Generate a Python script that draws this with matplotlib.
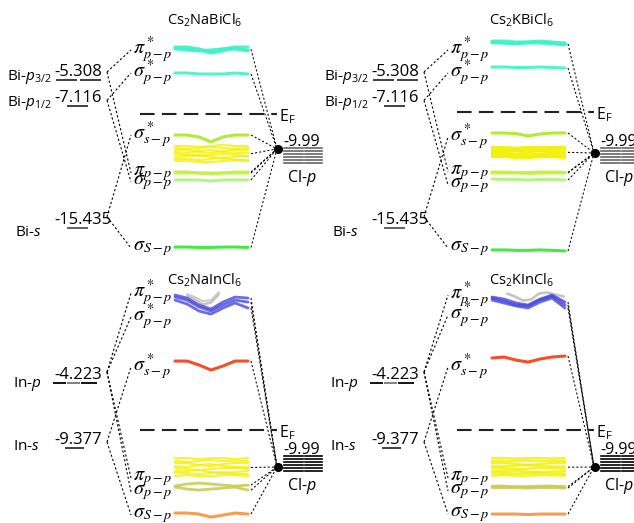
import matplotlib
matplotlib.use("Agg")
import matplotlib.pyplot as plt

plt.rcParams["font.family"] = ["Open Sans", "DejaVu Sans"]
plt.rcParams["mathtext.fontset"] = "custom"
plt.rcParams["mathtext.rm"] = "Open Sans"
plt.rcParams["mathtext.it"] = "Open Sans:italic"

# ---------------- data (energies in eV) ----------------
titles = [r"Cs$_2$NaBiCl$_6$", r"Cs$_2$KBiCl$_6$", r"Cs$_2$NaInCl$_6$", r"Cs$_2$KInCl$_6$"]

bi_levels = [-5.308, -7.116, -15.435]
bi_names = [r"Bi-$p_{\mathit{3/2}}$", r"Bi-$p_{\mathit{1/2}}$", r"Bi-$s$"]
bi_values = ["-5.308", "-7.116", "-15.435"]
in_levels = [-4.223, -9.377]
in_names = [r"In-$p$", r"In-$s$"]
in_values = ["-4.223", "-9.377"]
cl_level = -9.99

mo_names = [r"$\pi^*_{p-p}$", r"$\sigma^*_{p-p}$", r"$\sigma^*_{s-p}$",
            r"$\pi_{p-p}$", r"$\sigma_{p-p}$", r"$\sigma_{S-p}$"]

# sampling positions across each band
band_x = [175, 187, 199, 211, 223, 235, 248]

# Cs2NaBiCl6
nabi_ef = -7.64
nabi_dot = -10.03
nabi_mo_e = [-3.25, -4.83, -9.08, -11.68, -12.29, -16.82]
nabi_pi_star = [[-3.05, -3.05, -3.18, -3.39, -3.18, -3.05, -3.05],
                [-3.18, -3.25, -3.32, -3.25, -3.18, -3.18, -3.32],
                [-3.12, -3.18, -3.25, -3.46, -3.32, -3.12, -3.25]]
nabi_sig_star_pp = [[-4.83, -4.83, -4.90, -4.90, -4.90, -4.83, -4.90]]
nabi_sig_star_sp = [[-9.08, -9.08, -9.21, -9.55, -9.21, -9.08, -9.08]]
nabi_cl_band = [[-9.83, -9.83, -9.90, -9.83, -9.76, -9.83, -9.83],
                [-9.97, -10.03, -9.97, -9.90, -9.97, -10.03, -9.97],
                [-10.10, -10.10, -10.24, -10.31, -10.17, -10.10, -10.10],
                [-10.24, -10.31, -10.17, -10.10, -10.24, -10.31, -10.31],
                [-10.38, -10.44, -10.51, -10.44, -10.38, -10.44, -10.51],
                [-10.58, -10.51, -10.44, -10.58, -10.65, -10.58, -10.51],
                [-10.72, -10.72, -10.79, -10.72, -10.65, -10.79, -10.79],
                [-10.86, -10.86, -10.92, -10.92, -10.86, -10.79, -10.86]]
nabi_pi = [[-11.61, -11.61, -11.68, -11.68, -11.68, -11.61, -11.61],
           [-11.68, -11.68, -11.68, -11.75, -11.68, -11.68, -11.68]]
nabi_sig = [[-12.16, -12.16, -12.16, -12.23, -12.16, -12.16, -12.16]]
nabi_sig_sp = [[-16.75, -16.75, -16.78, -16.78, -16.75, -16.75, -16.78]]

# Cs2KBiCl6
kbi_ef = -7.50
kbi_dot = -10.31
kbi_mo_e = [-3.25, -4.83, -9.21, -11.61, -12.50, -16.82]
kbi_pi_star = [[-2.64, -2.64, -2.71, -2.71, -2.64, -2.71, -2.77],
               [-2.71, -2.77, -2.77, -2.71, -2.71, -2.77, -2.84],
               [-2.77, -2.77, -2.84, -2.77, -2.77, -2.84, -2.91]]
kbi_sig_star_pp = [[-4.42, -4.42, -4.45, -4.45, -4.42, -4.45, -4.49]]
kbi_sig_star_sp = [[-8.94, -8.94, -8.98, -9.14, -9.01, -8.94, -8.94]]
kbi_cl_band = [[-9.90, -9.90, -9.97, -9.90, -9.90, -9.90, -9.90],
               [-9.97, -10.03, -10.03, -9.97, -10.03, -9.97, -9.97],
               [-10.10, -10.10, -10.17, -10.24, -10.17, -10.10, -10.10],
               [-10.17, -10.24, -10.17, -10.10, -10.17, -10.24, -10.24],
               [-10.31, -10.31, -10.38, -10.44, -10.38, -10.31, -10.31],
               [-10.38, -10.44, -10.38, -10.31, -10.38, -10.44, -10.44],
               [-10.51, -10.51, -10.51, -10.58, -10.51, -10.51, -10.51],
               [-10.58, -10.58, -10.65, -10.65, -10.58, -10.58, -10.65]]
kbi_pi = [[-11.61, -11.61, -11.64, -11.64, -11.61, -11.61, -11.64],
          [-11.68, -11.68, -11.68, -11.71, -11.68, -11.68, -11.68]]
kbi_sig = [[-12.09, -12.12, -12.12, -12.16, -12.12, -12.12, -12.16]]
kbi_sig_sp = [[-16.95, -16.95, -16.98, -16.98, -16.95, -16.98, -17.02]]

# Cs2NaInCl6
nain_ef = -7.95
nain_dot = -10.89
nain_mo_e = [2.92, 1.02, -2.95, -11.76, -12.87, -14.70]
nain_gray_x = [187, 195, 203, 211, 219]
nain_gray = [[2.76, 2.44, 2.05, 2.20, 2.92],
             [2.68, 2.36, 1.97, 2.13, 2.76],
             [2.84, 2.60, 2.28, 2.36, 3.00]]
nain_blue = [[2.76, 2.52, 1.97, 1.65, 2.20, 2.60, 2.52],
             [2.36, 2.05, 1.49, 1.25, 1.73, 2.13, 1.73],
             [2.60, 2.36, 1.81, 1.49, 1.97, 2.36, 2.20]]
nain_red = [[-2.48, -2.48, -2.79, -3.19, -2.87, -2.48, -2.48]]
nain_cl_band = [[-10.18, -10.18, -10.26, -10.18, -10.18, -10.26, -10.18],
                [-10.41, -10.49, -10.41, -10.33, -10.41, -10.41, -10.41],
                [-10.57, -10.57, -10.73, -10.81, -10.65, -10.57, -10.57],
                [-10.81, -10.89, -10.73, -10.65, -10.81, -10.89, -10.89],
                [-10.97, -11.05, -11.13, -11.05, -10.97, -10.97, -11.05],
                [-11.21, -11.21, -11.13, -11.29, -11.37, -11.29, -11.21],
                [-11.37, -11.37, -11.45, -11.37, -11.29, -11.45, -11.45],
                [-11.61, -11.53, -11.61, -11.61, -11.53, -11.53, -11.61]]
nain_olive = [[-12.40, -12.24, -12.16, -12.24, -12.32, -12.40, -12.32],
              [-12.48, -12.64, -12.72, -12.64, -12.56, -12.48, -12.72]]
nain_orange = [[-14.54, -14.54, -14.62, -14.86, -14.70, -14.54, -14.62]]

# Cs2KInCl6
kin_ef = -7.95
kin_dot = -10.89
kin_mo_e = [2.76, 1.17, -2.95, -11.76, -12.80, -14.62]
kin_gray_x = [190, 198, 206, 214, 222, 230, 238, 247]
kin_gray = [[2.92, 2.68, 2.36, 2.44, 2.92, 3.00, 2.84, 2.68],
            [2.84, 2.60, 2.28, 2.36, 2.84, 2.92, 2.76, 2.60]]
kin_blue = [[2.60, 2.44, 2.13, 1.97, 2.44, 2.76, 2.20],
            [2.36, 2.13, 1.89, 1.73, 2.20, 2.52, 1.73],
            [2.52, 2.28, 1.97, 1.89, 2.36, 2.68, 1.97]]
kin_red = [[-2.24, -2.16, -2.40, -2.56, -2.32, -2.16, -2.08]]
kin_cl_band = [[-10.18, -10.18, -10.22, -10.18, -10.18, -10.22, -10.18],
               [-10.41, -10.45, -10.41, -10.37, -10.41, -10.41, -10.41],
               [-10.57, -10.57, -10.65, -10.73, -10.65, -10.57, -10.57],
               [-10.81, -10.85, -10.77, -10.73, -10.81, -10.85, -10.85],
               [-10.97, -11.01, -11.05, -11.01, -10.97, -10.97, -11.01],
               [-11.21, -11.21, -11.17, -11.25, -11.29, -11.25, -11.21],
               [-11.37, -11.37, -11.41, -11.37, -11.33, -11.41, -11.41],
               [-11.57, -11.53, -11.57, -11.57, -11.53, -11.53, -11.57]]
kin_olive = [[-12.40, -12.40, -12.44, -12.44, -12.40, -12.40, -12.44],
             [-12.52, -12.52, -12.52, -12.56, -12.52, -12.52, -12.56]]
kin_orange = [[-14.62, -14.62, -14.62, -14.66, -14.62, -14.62, -14.62]]

# ---------------- style ----------------
TURQ = "#3ff2c8"
YG = "#a6ec1c"
YEL = "#f2f000"
PI_C = "#c4f048"
SIG_C = "#aef27a"
GREEN = "#2ee82e"
BLUE = "#4646dc"
GRAY = "#bdbdbd"
RED = "#f23c12"
OLIVE = "#c8c84a"
ORANGE = "#f7923c"

TOP_YLIM = (-17.64, 0.17)
BOT_YLIM = (-15.33, 5.54)
DASH = (2.0, 2.0)


def band(lines, color, lw=2.2, alpha=0.9, link="mean", x=None):
    return {"lines": lines, "color": color, "lw": lw, "alpha": alpha, "link": link, "x": x}


def draw_panel(ax, title, ylim, h_px, levels, names, values, segs, seg_colors,
               vtx_px, name_px, name_x, links, bands, mo_e, ef, dot_e, cl_color):
    ax.set_xlim(0, 317)
    ax.set_ylim(*ylim)
    ax.axis("off")
    ppe = h_px / (ylim[1] - ylim[0])  # pixels per eV

    ax.text(205, ylim[1] - 20 / ppe, title, ha="center", va="center", fontsize=10.5)

    # atomic levels on the left
    for i, lev in enumerate(levels):
        for (x0, x1), c in zip(segs[i], seg_colors[i]):
            ax.plot([x0, x1], [lev, lev], color=c, lw=1.3, solid_capstyle="butt")
        ax.text(54, lev + 4 / ppe, values[i], ha="left", va="baseline", fontsize=12)
        ax.text(name_x[i], lev - name_px[i] / ppe, names[i], ha="right", va="baseline",
                fontsize=11)
        vy = lev + vtx_px[i] / ppe
        for j in links[i]:
            ax.plot([107, 131], [vy, mo_e[j]], color="k", lw=0.8, dashes=DASH)

    # MO labels
    for name, e in zip(mo_names, mo_e):
        ax.text(133, e, name, ha="left", va="center", fontsize=14.5, math_fontfamily="stix")

    # bands and their links to the Cl-p point
    for b in bands:
        xs = b["x"] if b["x"] is not None else band_x
        for ln in b["lines"]:
            ax.plot(xs, ln, color=b["color"], lw=b["lw"], alpha=b["alpha"],
                    solid_capstyle="round", solid_joinstyle="round")
        if b["link"] == "mean":
            ends = [sum(ln[-1] for ln in b["lines"]) / len(b["lines"])]
        elif b["link"] == "each":
            ends = [ln[-1] for ln in b["lines"]]
        else:
            ends = []
        for e in ends:
            ax.plot([251, 277], [e, dot_e], color="k", lw=0.75, dashes=DASH)

    # Fermi level
    ax.plot([140, 277], [ef, ef], color="#222222", lw=1.5, dashes=(7, 3.5))
    ax.text(279, ef - 3 / ppe, r"E$_\mathrm{F}$", ha="left", va="center", fontsize=11.5)

    # Cl-p levels
    ax.plot([278], [dot_e], "o", color="k", ms=5.5)
    gap = 3 / ppe
    for k in range(6):
        y = cl_level - k * gap
        ax.plot([284, 303], [y, y], color=cl_color, lw=1.2, clip_on=False)
        ax.plot([305, 322], [y, y], color=cl_color, lw=1.2, clip_on=False)
    ax.text(283, cl_level + 2 / ppe, "-9.99", ha="left", va="baseline", fontsize=11.5)
    ax.text(287, cl_level - 5 * gap - 5 / ppe, r"Cl-$p$", ha="left", va="top", fontsize=11.5)


fig = plt.figure(figsize=(6.34, 5.23), dpi=100)
top_h, bot_h = 260, 263
W, H = 634, 523

bi_segs = [[(56, 77), (80, 101)], [(67, 88)], [(67, 88)]]
bi_seg_colors = [["#333333", "#333333"], ["#333333"], ["#555555"]]
bi_links = [[0, 3], [1, 4], [2, 5]]
in_segs = [[(53, 66), (67, 80), (81, 97)], [(65, 84)]]
in_seg_colors = [["k", "#777777", "k"], ["#333333"]]
in_links = [[0, 1, 3, 4], [2, 5]]

panels = [
    (titles[0], nabi_mo_e, nabi_ef, nabi_dot, [
        band(nabi_pi_star, TURQ), band(nabi_sig_star_pp, TURQ),
        band(nabi_sig_star_sp, YG), band(nabi_cl_band, YEL, lw=1.6, alpha=0.75),
        band(nabi_pi, PI_C, link="each"), band(nabi_sig, SIG_C),
        band(nabi_sig_sp, GREEN)]),
    (titles[1], kbi_mo_e, kbi_ef, kbi_dot, [
        band(kbi_pi_star, TURQ), band(kbi_sig_star_pp, TURQ),
        band(kbi_sig_star_sp, YG), band(kbi_cl_band, YEL, lw=1.8, alpha=0.85),
        band(kbi_pi, PI_C, link="each"), band(kbi_sig, SIG_C),
        band(kbi_sig_sp, GREEN)]),
    (titles[2], nain_mo_e, nain_ef, nain_dot, [
        band(nain_gray, GRAY, lw=1.3, alpha=0.8, link=None, x=nain_gray_x),
        band(nain_blue, BLUE, lw=2.0, alpha=0.8, link="each"),
        band(nain_red, RED), band(nain_cl_band, YEL, lw=1.6, alpha=0.75),
        band(nain_olive, OLIVE, lw=2.0, alpha=0.85, link="each"),
        band(nain_orange, ORANGE)]),
    (titles[3], kin_mo_e, kin_ef, kin_dot, [
        band(kin_gray, GRAY, lw=1.3, alpha=0.8, link=None, x=kin_gray_x),
        band(kin_blue, BLUE, lw=2.0, alpha=0.8, link="each"),
        band(kin_red, RED), band(kin_cl_band, YEL, lw=1.8, alpha=0.8),
        band(kin_olive, OLIVE, lw=2.0, alpha=0.85, link="each"),
        band(kin_orange, ORANGE)]),
]

for idx, (title, mo_e, ef, dot_e, bands) in enumerate(panels):
    col, row = idx % 2, idx // 2
    if row == 0:
        ax = fig.add_axes([col * 0.5, bot_h / H, 0.5, top_h / H])
        draw_panel(ax, title, TOP_YLIM, top_h, bi_levels, bi_names, bi_values,
                   bi_segs, bi_seg_colors, [8, 6, 11], [0, 0, 8], [52, 52, 42],
                   bi_links, bands, mo_e, ef, dot_e, "#666666")
    else:
        ax = fig.add_axes([col * 0.5, 0, 0.5, bot_h / H])
        draw_panel(ax, title, BOT_YLIM, bot_h, in_levels, in_names, in_values,
                   in_segs, in_seg_colors, [11, 6], [4, 2], [42, 40],
                   in_links, bands, mo_e, ef, dot_e, "k")

fig.savefig("out.png", dpi=100)
